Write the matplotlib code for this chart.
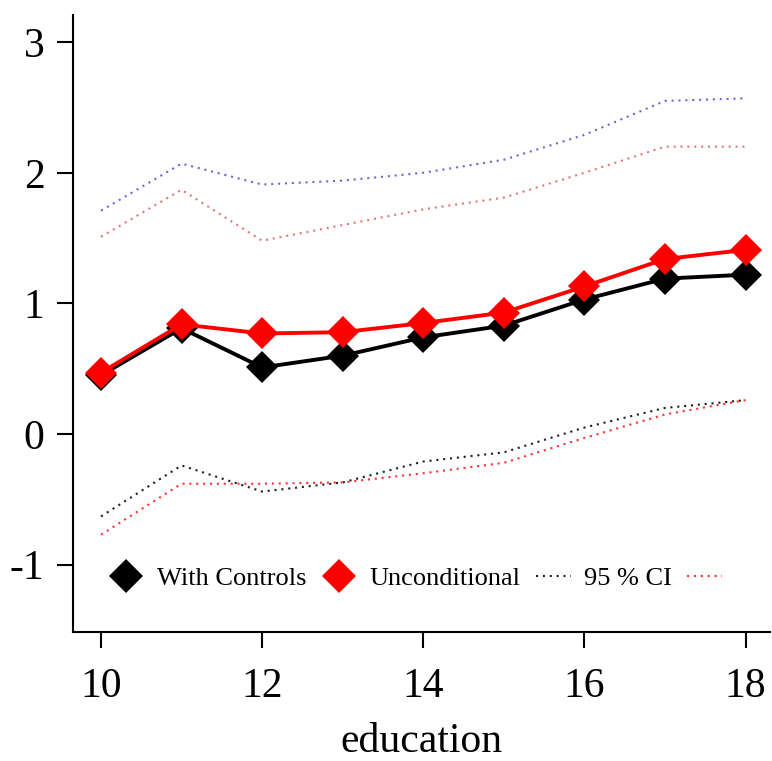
import numpy as np
import matplotlib.pyplot as plt
from matplotlib.lines import Line2D

plt.rcParams['font.family'] = ['Liberation Serif', 'DejaVu Serif']
plt.rcParams['axes.unicode_minus'] = False

education = [10, 11, 12, 13, 14, 15, 16, 17, 18]
with_controls = [0.45, 0.81, 0.51, 0.60, 0.74, 0.83, 1.03, 1.19, 1.22]
unconditional = [0.47, 0.84, 0.77, 0.78, 0.85, 0.93, 1.13, 1.34, 1.41]
ci_controls_hi = [1.71, 2.07, 1.91, 1.94, 2.00, 2.10, 2.29, 2.55, 2.57]
ci_controls_lo = [-0.63, -0.24, -0.44, -0.37, -0.21, -0.14, 0.05, 0.20, 0.26]
ci_uncond_hi = [1.51, 1.87, 1.48, 1.60, 1.72, 1.81, 2.00, 2.20, 2.20]
ci_uncond_lo = [-0.77, -0.38, -0.38, -0.37, -0.30, -0.22, -0.03, 0.15, 0.26]

fig = plt.figure(figsize=(7.72, 7.61), dpi=100)
ax = fig.add_axes([0.0946, 0.1695, 0.9024, 0.8105])

dots = (0, (1, 2.3))
ax.plot(education, ci_controls_hi, color='#6a6ad0', lw=1.5, ls=dots)
ax.plot(education, ci_controls_lo, color='#202020', lw=1.5, ls=dots)
ax.plot(education, ci_uncond_hi, color='#e07878', lw=1.5, ls=dots)
ax.plot(education, ci_uncond_lo, color='#ff3030', lw=1.5, ls=dots)

ax.plot(education, with_controls, color='black', lw=2.8, marker='D',
        markersize=16, markeredgewidth=0)
ax.plot(education, unconditional, color='red', lw=2.8, marker='D',
        markersize=16, markeredgewidth=0)

# legend keys: markers only for the estimates, dotted lines for the bands
handles = [
    Line2D([], [], ls='none', marker='D', color='black', markersize=17, markeredgewidth=0),
    Line2D([], [], ls='none', marker='D', color='red', markersize=17, markeredgewidth=0),
    Line2D([], [], color='#202020', lw=1.5, ls=dots),
    Line2D([], [], color='#ff3030', lw=1.5, ls=dots),
]
ax.legend(handles, ['With Controls', 'Unconditional', '95 % CI', ''],
          ncol=4, loc='center', bbox_to_anchor=(0.501, 0.087), frameon=False,
          fontsize=19, handlelength=1.3, handletextpad=0.5, columnspacing=0.6)

ax.set_xlim(9.653, 18.30)
ax.set_ylim(-1.515, 3.206)
ax.set_xticks([10, 12, 14, 16, 18])
ax.set_yticks([-1, 0, 1, 2, 3])
ax.set_xlabel('education', fontsize=30, labelpad=12)

for s in ['top', 'right']:
    ax.spines[s].set_visible(False)
for s in ['left', 'bottom']:
    ax.spines[s].set_linewidth(1.5)
ax.tick_params(direction='out', length=11.5, width=1.5, labelsize=30)
ax.tick_params(axis='x', pad=14)
ax.tick_params(axis='y', pad=9)

fig.savefig('out.png', dpi=100)
